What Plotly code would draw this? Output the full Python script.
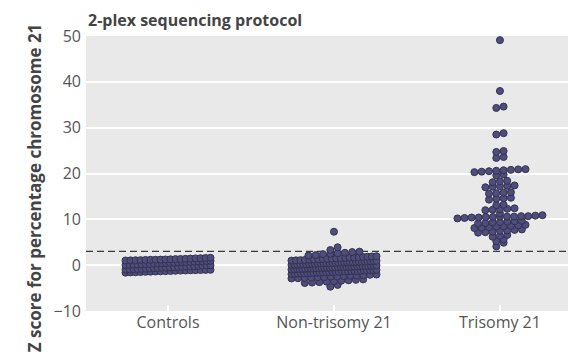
import plotly.graph_objects as go

# ---------------- data ----------------
categories = ["Controls", "Non-trisomy 21", "Trisomy 21"]

controls = [
    1.02, 1.35, 1.08, 1.51, 1.21, 1.14, 1.44, 1.05, 1.28, 1.62, 1.17, 1.39, 1.10, 1.25, 1.48, 1.32, 1.57, 1.19,
    0.08, 0.52, 0.91, 0.33, 0.74, 0.15, 0.61, 0.42, 0.86, 0.04, 0.47, 0.79, 0.27, 0.66, 0.38, 0.95, 0.19, 0.57, 0.83, 0.12, 0.69, 0.24,
    -0.06, -0.49, -0.88, -0.31, -0.72, -0.17, -0.63, -0.41, -0.93, -0.02, -0.54, -0.81, -0.23, -0.67, -0.36, -0.77, -0.11, -0.58, -0.97, -0.29, -0.45, -0.85,
    -1.04, -1.38, -1.12, -1.55, -1.22, -1.09, -1.46, -1.01, -1.31, -1.63, -1.16, -1.42, -1.07, -1.27, -1.51, -1.34, -1.19, -1.58,
]

non_trisomy = [
    7.3, 3.9, 3.3,
    2.95, 2.1, 2.4, 2.7, 2.2, 2.85, 2.5, 2.6,
    1.9, 1.1, 1.5, 1.3, 1.7, 1.05, 1.8, 1.2, 1.6, 1.4, 1.35, 1.75, 1.15, 1.55, 1.95, 1.25, 1.45, 1.65, 1.85, 1.0,
    0.1, 0.5, 0.9, 0.3, 0.7, 0.2, 0.6, 0.4, 0.8, 0.05, 0.45, 0.85, 0.25, 0.65, 0.35, 0.75, 0.15, 0.55, 0.95, 0.12,
    0.48, 0.72, 0.28, 0.62, 0.38, 0.82, 0.18, 0.58, 0.42, 0.68,
    -0.1, -0.5, -0.9, -0.3, -0.7, -0.2, -0.6, -0.4, -0.8, -0.05, -0.45, -0.85, -0.25, -0.65, -0.35, -0.75, -0.15,
    -0.55, -0.95, -0.12, -0.48, -0.72, -0.28, -0.62, -0.38, -0.82, -0.18, -0.58, -0.42, -0.68, -0.33, -0.77,
    -1.1, -1.5, -1.9, -1.3, -1.7, -1.2, -1.6, -1.4, -1.8, -1.05, -1.45, -1.85, -1.25, -1.65, -1.35, -1.75, -1.15,
    -1.55, -1.95, -1.12, -1.48, -1.72, -1.28, -1.62, -1.38, -1.82, -1.18, -1.58,
    -2.1, -2.5, -2.9, -2.3, -2.7, -2.2, -2.6, -2.4, -2.8, -2.05, -2.45, -2.85, -2.25, -2.65,
    -3.1, -3.5, -3.9, -3.3, -3.7, -3.2, -3.6, -3.4, -3.8,
    -4.7, -4.3,
]

trisomy = [
    49.1, 38.0, 34.6, 34.3, 28.8, 28.5, 24.9, 24.7, 23.6, 23.4,
    20.3, 20.5, 20.6, 20.8, 20.9, 20.7, 20.4, 20.95,
    19.8, 19.6,
    18.3, 18.1, 18.4,
    17.0, 17.1, 17.2, 17.3, 17.4,
    15.6, 15.8, 15.9, 15.7,
    14.7, 14.3, 14.5, 14.6,
    13.2, 13.1,
    12.1, 12.0, 12.3, 12.2, 12.4,
    11.3,
    10.3, 10.4, 10.5, 10.6, 10.7, 10.8, 10.5, 10.6, 10.4, 10.7, 10.9, 10.2, 10.6,
    9.1, 9.3, 9.5, 9.7, 9.2, 9.6, 9.4,
    8.1, 8.3, 8.5, 8.7, 8.2, 8.6, 8.4, 8.8,
    7.2, 7.5, 7.8, 7.1, 7.6, 7.3, 7.7,
    6.2, 6.6, 6.4,
    5.6, 5.2,
    4.9, 4.1,
]

groups = [controls, non_trisomy, trisomy]
cutoff = 3

# ---------------- layout helper (binned swarm) ----------------
PX_PER_X = 166.0
DOT_STEP = 7.3 / PX_PER_X
MAX_W = 85.0 / PX_PER_X
BIN_H = 1.0


def swarm(values, center):
    bins = {}
    for v in values:
        bins.setdefault(int((v // BIN_H)), []).append(v)
    xs, ys = [], []
    for k in sorted(bins):
        row = sorted(bins[k])
        n = len(row)
        step = DOT_STEP if n < 2 else min(DOT_STEP, MAX_W / (n - 1))
        for i, v in enumerate(row):
            xs.append(center + (i - (n - 1) / 2) * step)
            ys.append(v)
    return xs, ys


fig = go.Figure()
for gi, vals in enumerate(groups):
    xs, ys = swarm(vals, gi)
    fig.add_trace(go.Scatter(
        x=xs, y=ys, mode="markers",
        marker=dict(size=7, color="#4f4c80", line=dict(color="#34334a", width=1)),
        showlegend=False, hoverinfo="y",
    ))

fig.add_shape(type="line", xref="paper", yref="y", x0=0, x1=1, y0=cutoff, y1=cutoff,
              line=dict(color="#3a3a3a", width=1.3, dash="7px,4px"), layer="between")

font_family = "Open Sans, DejaVu Sans, sans-serif"

fig.add_annotation(text="<b>2-plex sequencing protocol</b>", xref="paper", yref="paper",
                   x=0, y=1, xanchor="left", yanchor="bottom", yshift=3, showarrow=False,
                   font=dict(family=font_family, size=16, color="#444444"))
fig.add_annotation(text="<b>Z score for percentage chromosome 21</b>", xref="paper", yref="paper",
                   x=-0.108, y=0.45, xanchor="center", yanchor="middle", textangle=-90, showarrow=False,
                   font=dict(family=font_family, size=17, color="#444444"))

fig.update_layout(
    width=570, height=355,
    margin=dict(l=86, r=2, t=36, b=44),
    paper_bgcolor="white", plot_bgcolor="#e9e9e9",
    font=dict(family=font_family, size=16, color="#555555"),
    xaxis=dict(range=[-0.494, 2.41], tickvals=[0, 1, 2], ticktext=categories,
               showgrid=False, zeroline=False, showline=False,
               ticks="inside", ticklen=6, tickwidth=1.5, tickcolor="white"),
    yaxis=dict(range=[-10, 50], tickvals=[-10, 0, 10, 20, 30, 40, 50],
               gridcolor="white", gridwidth=1.5, zeroline=False, showline=False,
               ticks="", ticklabelstandoff=4),
)

fig.write_html("out.html")
